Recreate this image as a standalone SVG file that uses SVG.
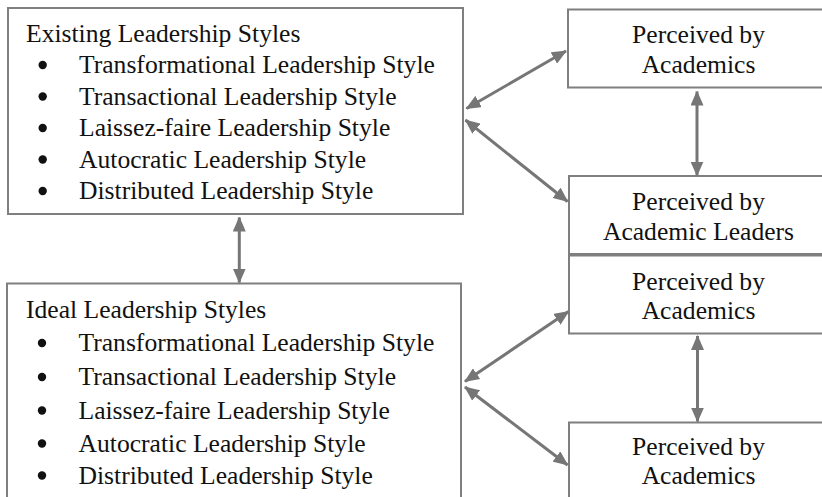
<svg xmlns="http://www.w3.org/2000/svg" width="822" height="497" viewBox="0 0 822 497" font-family="'Liberation Serif', serif">
  <style>
    .box { fill: #ffffff; stroke: #7f7f7f; stroke-width: 2; }
    text { font-family: 'Liberation Serif', serif; font-size: 25.6px; fill: #111111; }
    .ctr { text-anchor: middle; }
    .dot { fill: #111111; }
    .conn { stroke: #767676; stroke-width: 3; fill: none; marker-start: url(#head); marker-end: url(#head); }
  </style>
  <defs>
    <marker id="head" viewBox="0 0 15 13" refX="14" refY="6.5" markerWidth="15" markerHeight="13" markerUnits="userSpaceOnUse" orient="auto-start-reverse">
      <path d="M0,0 L15,6.5 L0,13 Z" fill="#767676"/>
    </marker>
  </defs>
  <rect width="822" height="497" fill="#ffffff"/>

  <!-- Existing styles -->
  <g id="existing">
    <rect class="box" x="8" y="8" width="455" height="206"/>
    <text x="26" y="41.5">Existing Leadership Styles</text>
    <circle class="dot" cx="42.7" cy="65" r="4.2"/>
    <text x="79" y="73">Transformational Leadership Style</text>
    <circle class="dot" cx="42.7" cy="96.5" r="4.2"/>
    <text x="79" y="104.5">Transactional Leadership Style</text>
    <circle class="dot" cx="42.7" cy="128" r="4.2"/>
    <text x="79" y="136">Laissez-faire Leadership Style</text>
    <circle class="dot" cx="42.7" cy="159.5" r="4.2"/>
    <text x="79" y="167.5">Autocratic Leadership Style</text>
    <circle class="dot" cx="42.7" cy="191" r="4.2"/>
    <text x="79" y="199">Distributed Leadership Style</text>
  </g>

  <!-- Ideal styles -->
  <g id="ideal">
    <rect class="box" x="7" y="283.5" width="454" height="230"/>
    <text x="26" y="318">Ideal Leadership Styles</text>
    <circle class="dot" cx="42" cy="343" r="4.2"/>
    <text x="78.5" y="351">Transformational Leadership Style</text>
    <circle class="dot" cx="42" cy="377" r="4.2"/>
    <text x="78.5" y="385">Transactional Leadership Style</text>
    <circle class="dot" cx="42" cy="410.5" r="4.2"/>
    <text x="78.5" y="418.5">Laissez-faire Leadership Style</text>
    <circle class="dot" cx="42" cy="443.5" r="4.2"/>
    <text x="78.5" y="451.5">Autocratic Leadership Style</text>
    <circle class="dot" cx="42" cy="475.5" r="4.2"/>
    <text x="78.5" y="483.5">Distributed Leadership Style</text>
  </g>

  <!-- Perception boxes -->
  <g id="academics-1">
    <rect class="box" x="568" y="9.5" width="262" height="78"/>
    <text class="ctr" x="698.5" y="42.7">Perceived by</text>
    <text class="ctr" x="698.5" y="72.5">Academics</text>
  </g>
  <g id="leaders-1">
    <rect class="box" x="569" y="176" width="262" height="78"/>
    <text class="ctr" x="698.5" y="210">Perceived by</text>
    <text class="ctr" x="698.5" y="240">Academic Leaders</text>
  </g>
  <g id="academics-2">
    <rect class="box" x="569" y="255.5" width="262" height="78"/>
    <text class="ctr" x="698.5" y="290">Perceived by</text>
    <text class="ctr" x="698.5" y="318.5">Academics</text>
  </g>
  <g id="academics-3">
    <rect class="box" x="569" y="422.5" width="262" height="90"/>
    <text class="ctr" x="698.5" y="455">Perceived by</text>
    <text class="ctr" x="698.5" y="483.5">Academics</text>
  </g>

  <!-- Connectors -->
  <g id="connectors">
    <path class="conn" d="M466.5,108.5 L566,51"/>
    <path class="conn" d="M465.5,120 L567.5,201.5"/>
    <path class="conn" d="M697,91.5 L697,175.5"/>
    <path class="conn" d="M239.3,217.5 L239.3,282.5"/>
    <path class="conn" d="M465,381.5 L568.5,311.5"/>
    <path class="conn" d="M465,387 L567.5,465"/>
    <path class="conn" d="M697.5,336 L697.5,421.5"/>
  </g>
</svg>
